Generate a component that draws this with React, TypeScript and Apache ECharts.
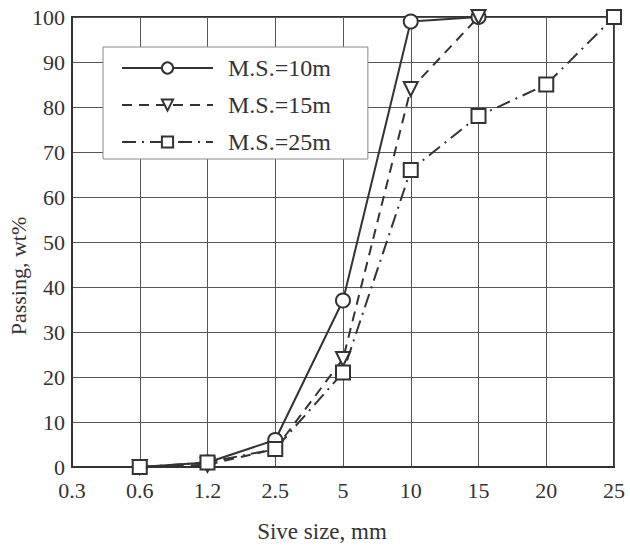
import React, { useEffect, useRef } from "react";
import * as echarts from "echarts";

const categories = ["0.3", "0.6", "1.2", "2.5", "5", "10", "15", "20", "25"];
const ms10 = [null, 0, 1, 6, 37, 99, 100, null, null];
const ms15 = [null, 0, 0.5, 4, 24, 84, 100, null, null];
const ms25 = [null, 0, 1, 4, 21, 66, 78, 85, 100];
const seriesNames = ["M.S.=10m", "M.S.=15m", "M.S.=25m"];
const xTitle = "Sive size, mm";
const yTitle = "Passing, wt%";

const FONT = "'Liberation Serif', 'Times New Roman', serif";
const INK = "#333";

export default function App() {
  const ref = useRef<HTMLDivElement>(null);
  useEffect(() => {
    if (!ref.current) return;
    const chart = echarts.init(ref.current, null, { renderer: "svg" });
    const mk = (name: string, data: any[], symbol: string, type: any, rot = 0) => ({
      name,
      type: "line",
      data,
      symbol,
      symbolSize: 14,
      symbolRotate: rot,
      connectNulls: false,
      lineStyle: { color: INK, width: 2, type },
      itemStyle: { color: INK, borderWidth: 1.5 },
    });
    chart.setOption({
      animation: false,
      backgroundColor: "#fff",
      textStyle: { fontFamily: FONT },
      grid: { left: 72, right: 16, top: 17, bottom: 79, show: true, borderColor: INK, borderWidth: 2 },
      legend: {
        orient: "vertical",
        left: 103,
        top: 47,
        padding: [9, 37, 5, 18],
        itemGap: 13,
        itemWidth: 91,
        itemHeight: 14,
        backgroundColor: "#fff",
        borderColor: "#888",
        borderWidth: 1,
        textStyle: { fontFamily: FONT, fontSize: 24, color: INK, padding: [0, 0, 0, 10] },
        data: seriesNames,
      },
      graphic: [
        {
          type: "text",
          x: 18,
          y: 276,
          rotation: Math.PI / 2,
          style: { text: yTitle, font: `22px ${FONT}`, fill: INK, align: "center", verticalAlign: "middle" },
        },
        {
          type: "text",
          x: 322,
          y: 531,
          style: { text: xTitle, font: `23px ${FONT}`, fill: INK, align: "center", verticalAlign: "middle" },
        },
      ],
      xAxis: {
        type: "category",
        data: categories,
        boundaryGap: false,
        axisLine: { show: true, lineStyle: { color: INK, width: 2 } },
        axisTick: { show: false },
        axisLabel: { fontFamily: FONT, fontSize: 22, color: INK, margin: 12 },
        splitLine: { show: true, lineStyle: { color: "#555", width: 1 } },
      },
      yAxis: {
        type: "value",
        min: 0,
        max: 100,
        interval: 10,
        axisLine: { show: true, lineStyle: { color: INK, width: 2 } },
        axisTick: { show: false },
        axisLabel: { fontFamily: FONT, fontSize: 22, color: INK, margin: 7 },
        splitLine: { show: true, lineStyle: { color: "#555", width: 1 } },
      },
      series: [
        mk(seriesNames[0], ms10, "emptyCircle", "solid"),
        mk(seriesNames[1], ms15, "emptyTriangle", [10, 7], 180),
        mk(seriesNames[2], ms25, "emptyRect", [14, 6, 2, 6]),
      ],
    });
    return () => chart.dispose();
  }, []);
  return <div ref={ref} style={{ position: "absolute", left: 0, top: 0, width: 630, height: 546 }} />;
}
